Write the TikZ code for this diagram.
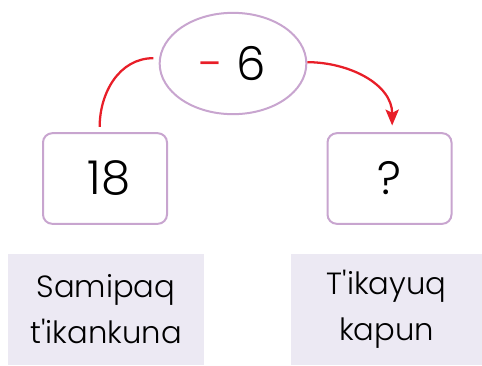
\documentclass[tikz,border=0pt]{standalone}
\usepackage{fontspec}
\setmainfont{Poppins Light}
\usetikzlibrary{shapes.geometric, arrows.meta}
\definecolor{framelilac}{RGB}{200, 165, 207}
\definecolor{labelgray}{RGB}{236, 233, 243}
\definecolor{arrowred}{RGB}{232, 30, 40}

\begin{document}
\begin{tikzpicture}[x=0.75pt, y=-0.75pt, line width=1.5pt,
    numbox/.style={draw=framelilac, rounded corners=7pt, minimum width=93pt, minimum height=68pt, font=\fontsize{35}{40}\selectfont},
    opbubble/.style={ellipse, draw=framelilac, minimum width=110pt, minimum height=76pt, inner sep=0pt, font=\fontsize{35}{40}\selectfont},
    namebox/.style={fill=labelgray, minimum height=83pt, align=center, font=\fontsize{23}{34.5}\selectfont},
    link/.style={arrowred, line width=1.7pt}]
    % Canvas
    \useasboundingbox (0,0) rectangle (482,365);

    % Operation bubble
    \node[opbubble] (op) at (233,63.5) {\textcolor{arrowred}{-} 6};

    % Number boxes
    \node[numbox] (start) at (105,178.5) {\hspace{6pt}18};
    \node[numbox] (result) at (389.5,178.5) {?};

    % Name labels
    \node[namebox, minimum width=147pt] (startname) at (106,309.5) {Samipaq\\t\textquotesingle ikankuna};
    \node[namebox, minimum width=143pt] (resultname) at (386.5,309.5) {T\textquotesingle ikayuq\\kapun};

    % Red connectors
    \draw[link] ([xshift=-4pt, yshift=4pt]op.west) to[out=180, in=90] ([xshift=-4pt, yshift=4pt]start.north);
    \draw[link, -{Stealth[length=12pt, width=10pt, inset=2.5pt]}] ([yshift=1pt]op.east) to[out=0, in=90] ([xshift=2pt, yshift=5pt]result.north);
\end{tikzpicture}
\end{document}
